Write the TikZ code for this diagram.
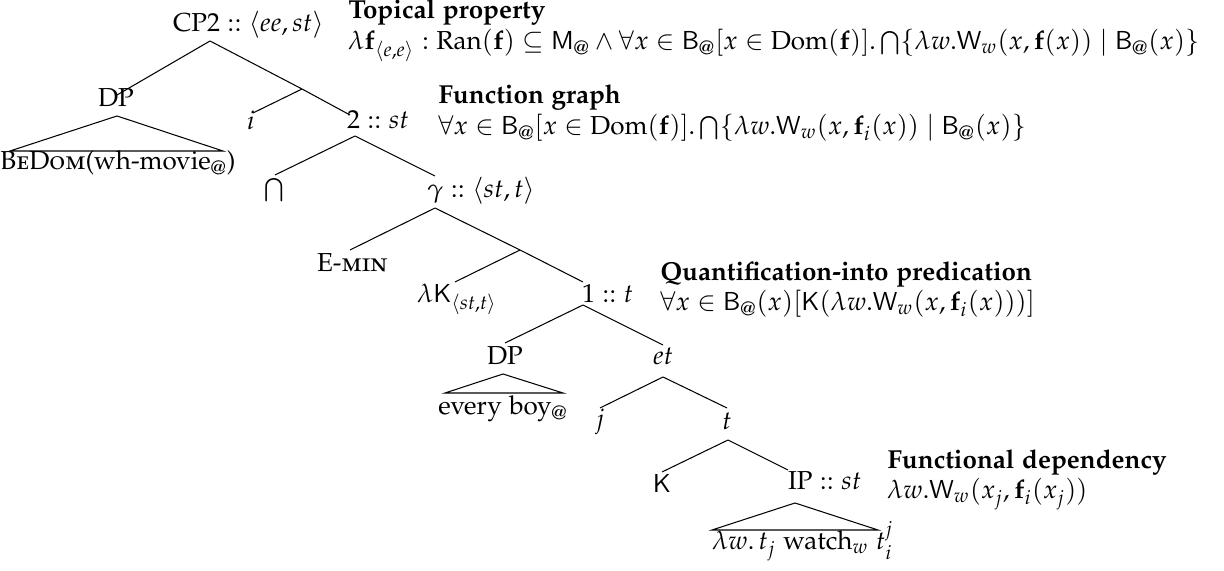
\documentclass[tikz,border=0pt]{standalone}
\usepackage[T1]{fontenc}
\usepackage[sc]{mathpazo}
\usepackage[scaled=0.92]{helvet}
\usepackage{amsmath}
\newcommand{\at}{\text{@}}
\begin{document}
\begin{tikzpicture}[x=0.3846pt,y=-0.3846pt,
  lbl/.style={anchor=base west,inner sep=0pt,outer sep=0pt},
  clbl/.style={anchor=base,inner sep=0pt,outer sep=0pt},
  branch/.style={line width=0.4pt},
  ttl/.style={anchor=base west,inner sep=0pt,font=\bfseries}]
\useasboundingbox (0,0) rectangle (1224,571);

% ---- labels ----
\node[lbl]  (cp2)   at (173,32)  {CP2${}\mathrel{::}\langle ee,st\rangle$};
\node[clbl] (dp1)   at (116,107) {DP};
\node[clbl] (bedom) at (118,170) {\textsc{BeDom}(wh-movie$_{\at}$)};
\node[clbl] (i)     at (251,130) {$i$};
\node[lbl]  (two)   at (347,129) {$2\mathrel{::}st$};
\node[inner sep=0pt] (cap) at (274,190) {$\bigcap$};
\node[lbl]  (gam)   at (427,198) {$\gamma\mathrel{::}\langle st,t\rangle$};
\node[lbl]  (emin)  at (317,272) {E-\textsc{min}};
\node[lbl]  (lamk)  at (417,303) {$\lambda\mathsf{K}_{\langle st,t\rangle}$};
\node[lbl]  (one)   at (582,303) {$1\mathrel{::}t$};
\node[clbl] (dp2)   at (505,365) {DP};
\node[clbl] (every) at (503,415) {every boy$_{\at}$};
\node[clbl] (et)    at (663,365) {$et$};
\node[clbl] (j)     at (600,428) {$j$};
\node[clbl] (t)     at (727,430) {$t$};
\node[clbl] (k)     at (662,493) {$\mathsf{K}$};
\node[lbl]  (ip)    at (788,490) {IP${}\mathrel{::}st$};
\node[lbl]  (watch) at (712,550) {$\lambda w.\,t_j$ watch$_w$ $t_i^j$};

% ---- annotations ----
\node[ttl] (ann1t) at (348,19) {Topical property};
\node[lbl] (ann1)  at (348,50) {$\lambda\mathbf{f}_{\langle e,e\rangle} : \mathrm{Ran}(\mathbf{f}) \subseteq \mathsf{M}_{\at} \wedge \forall x \in \mathsf{B}_{\at}[x \in \mathrm{Dom}(\mathbf{f})].\bigcap\{\lambda w.\mathsf{W}_w(x,\mathbf{f}(x)) \mid \mathsf{B}_{\at}(x)\}$};
\node[ttl] (ann2t) at (438,104) {Function graph};
\node[lbl] (ann2)  at (438,135) {$\forall x \in \mathsf{B}_{\at}[x \in \mathrm{Dom}(\mathbf{f})].\bigcap\{\lambda w.\mathsf{W}_w(x,\mathbf{f}_i(x)) \mid \mathsf{B}_{\at}(x)\}$};
\node[ttl] (ann3t) at (660,281) {Quantification-into predication};
\node[lbl] (ann3)  at (660,311) {$\forall x \in \mathsf{B}_{\at}(x)[\mathsf{K}(\lambda w.\mathsf{W}_w(x,\mathbf{f}_i(x)))]$};
\node[ttl] (ann4t) at (887,469) {Functional dependency};
\node[lbl] (ann4)  at (887,499) {$\lambda w.\mathsf{W}_w(x_j,\mathbf{f}_i(x_j))$};

% ---- attachment points ----
\coordinate (cp2b) at (210,41);
\coordinate (dp1t) at (117,95);
\coordinate (x1)   at (302,89);
\coordinate (it)   at (253,113);
\coordinate (twot) at (350,115);
\coordinate (twob) at (355,136);
\coordinate (capt) at (275,175);
\coordinate (gamt) at (435,176);
\coordinate (gamb) at (435,208);
\coordinate (emint) at (350,250);
\coordinate (y1)   at (520,250);
\coordinate (lamkt) at (455,282);
\coordinate (onet) at (583,282);
\coordinate (oneb) at (583,305);
\coordinate (dp2t) at (505,343);
\coordinate (ett)  at (663,345);
\coordinate (etb)  at (663,377);
\coordinate (jt)   at (600,408);
\coordinate (tt)   at (727,408);
\coordinate (tb)   at (728,440);
\coordinate (kt)   at (662,472);
\coordinate (ipt)  at (788,470);
% triangles
\coordinate (tri1a) at (117,116); \coordinate (tri1l) at (10,151); \coordinate (tri1r) at (223,151);
\coordinate (tri2a) at (503,374); \coordinate (tri2l) at (445,393); \coordinate (tri2r) at (563,393);
\coordinate (tri3a) at (795,503); \coordinate (tri3l) at (712,530); \coordinate (tri3r) at (878,530);

% ---- branches ----
\draw[branch] (cp2b) -- (dp1t);
\draw[branch] (cp2b) -- (x1);
\draw[branch] (x1) -- (it);
\draw[branch] (x1) -- (twot);
\draw[branch] (twob) -- (capt);
\draw[branch] (twob) -- (gamt);
\draw[branch] (gamb) -- (emint);
\draw[branch] (gamb) -- (y1);
\draw[branch] (y1) -- (lamkt);
\draw[branch] (y1) -- (onet);
\draw[branch] (oneb) -- (dp2t);
\draw[branch] (oneb) -- (ett);
\draw[branch] (etb) -- (jt);
\draw[branch] (etb) -- (tt);
\draw[branch] (tb) -- (kt);
\draw[branch] (tb) -- (ipt);
\draw[branch] (tri1a) -- (tri1l) -- (tri1r) -- cycle;
\draw[branch] (tri2a) -- (tri2l) -- (tri2r) -- cycle;
\draw[branch] (tri3a) -- (tri3l) -- (tri3r) -- cycle;
\end{tikzpicture}
\end{document}
